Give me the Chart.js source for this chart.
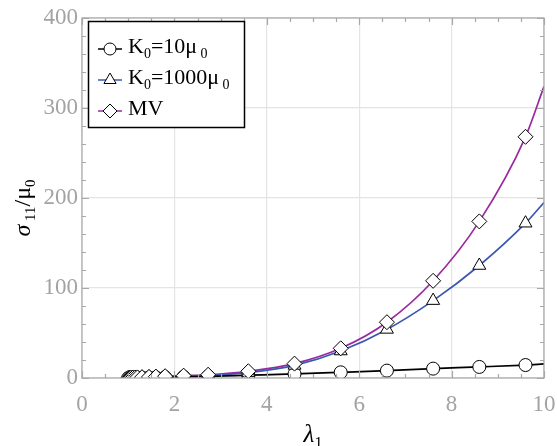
<!DOCTYPE html>
<html>
<head>
<meta charset="utf-8">
<script src="https://cdn.jsdelivr.net/npm/chart.js@4/dist/chart.umd.min.js"></script>
<style>
html,body{margin:0;padding:0;background:#fff;}
#c{display:block;}
</style>
</head>
<body>
<canvas id="c" width="557" height="446"></canvas>
<script>
// ---- data ----
const lambda = [1.0, 1.03, 1.06, 1.1, 1.15, 1.2, 1.3, 1.45, 1.6, 1.8, 2.2, 2.73, 3.6, 4.6, 5.6, 6.6, 7.6, 8.6, 9.6, 10];
const k10    = [0, 0.05, 0.1, 0.15, 0.2, 0.3, 0.4, 0.55, 0.7, 0.9, 1.3, 1.9, 3.1, 4.5, 6.3, 8.2, 10.4, 12.3, 14.4, 15.6];
const k1000  = [0, 0.1, 0.2, 0.3, 0.4, 0.5, 0.7, 0.9, 1.1, 1.4, 2.0, 3.0, 6.0, 14, 30, 54, 86, 125, 172, 195];
const mv     = [0, 0.1, 0.2, 0.35, 0.5, 0.65, 0.9, 1.2, 1.5, 2.0, 2.6, 3.6, 7.5, 16, 33, 62, 108, 174, 268, 324];
const seriesLabels = [[["K",""],["0","sub"],["=10μ",""],[" 0","sub"]],
                      [["K",""],["0","sub"],["=1000μ",""],[" 0","sub"]],
                      [["MV",""]]];
const xRange = [0, 10], yRange = [0, 400];
const xMajor = 2, xMinor = 0.5, yMajor = 100, yMinor = 20;

const colors = ['#000000', '#3a58b0', '#9a2a9e'];
const styles = ['circle', 'triangle', 'rectRot'];
const radii = [6.5, 7.5, 7.5];
const series = [k10, k1000, mv];

const pts = arr => lambda.map((x, i) => ({x: x, y: arr[i]}));
const datasets = [];
series.forEach((s, i) => {
  datasets.push({
    data: pts(s), borderColor: colors[i], borderWidth: 1.7, pointRadius: 0,
    cubicInterpolationMode: 'monotone', showLine: true, order: 10, fill: false
  });
});
series.forEach((s, i) => {
  datasets.push({
    data: pts(s).filter(p => p.x < 10), showLine: false, pointStyle: styles[i],
    pointRadius: radii[i], pointBackgroundColor: '#ffffff', pointBorderColor: '#000000',
    pointBorderWidth: 1, order: 3 - i
  });
});

const SERIF = '"Liberation Serif", "DejaVu Serif", serif';
const tickColor = '#a3a3a3';
Chart.defaults.font.family = SERIF;

function drawRich(ctx, parts, x, y, size) {
  let cx = x;
  parts.forEach(([t, kind]) => {
    if (kind === 'sub') {
      ctx.font = Math.round(size * 0.62) + 'px ' + SERIF;
      ctx.fillText(t, cx, y + size * 0.22);
    } else if (kind === 'it') {
      ctx.font = 'italic ' + size + 'px ' + SERIF;
      ctx.fillText(t, cx, y);
    } else {
      ctx.font = size + 'px ' + SERIF;
      ctx.fillText(t, cx, y);
    }
    cx += ctx.measureText(t).width;
  });
  return cx - x;
}
function richWidth(ctx, parts, size) {
  let w = 0;
  parts.forEach(([t, kind]) => {
    if (kind === 'sub') ctx.font = Math.round(size * 0.62) + 'px ' + SERIF;
    else if (kind === 'it') ctx.font = 'italic ' + size + 'px ' + SERIF;
    else ctx.font = size + 'px ' + SERIF;
    w += ctx.measureText(t).width;
  });
  return w;
}

const decor = {
  id: 'decor',
  afterDraw(chart) {
    const ctx = chart.ctx, a = chart.chartArea, xs = chart.scales.x, ys = chart.scales.y;
    ctx.save();
    // frame
    ctx.strokeStyle = '#a8a8a8';
    ctx.lineWidth = 1.2;
    ctx.strokeRect(a.left, a.top, a.right - a.left, a.bottom - a.top);
    // ticks
    ctx.beginPath();
    for (let v = xRange[0]; v <= xRange[1] + 1e-9; v += xMinor) {
      const px = Math.round(xs.getPixelForValue(v)) + 0.5;
      const major = Math.abs(v / xMajor - Math.round(v / xMajor)) < 1e-6;
      const L = major ? 7 : 4;
      ctx.moveTo(px, a.bottom); ctx.lineTo(px, a.bottom - L);
      ctx.moveTo(px, a.top); ctx.lineTo(px, a.top + L);
    }
    for (let v = yRange[0]; v <= yRange[1] + 1e-9; v += yMinor) {
      const py = Math.round(ys.getPixelForValue(v)) + 0.5;
      const major = Math.abs(v / yMajor - Math.round(v / yMajor)) < 1e-6;
      const L = major ? 7 : 4;
      ctx.moveTo(a.left, py); ctx.lineTo(a.left + L, py);
      ctx.moveTo(a.right, py); ctx.lineTo(a.right - L, py);
    }
    ctx.stroke();

    // axis titles
    ctx.fillStyle = '#000';
    ctx.textBaseline = 'alphabetic';
    ctx.textAlign = 'left';
    const xt = [["λ", "it"], ["1", "sub"]];
    const xw = richWidth(ctx, xt, 25);
    drawRich(ctx, xt, (a.left + a.right) / 2 - xw / 2, 442, 25);
    ctx.save();
    ctx.translate(30, (a.top + a.bottom) / 2 + 10);
    ctx.rotate(-Math.PI / 2);
    const yt = [["σ", "it"], [" 11", "sub"], ["/μ", ""], ["0", "sub"]];
    const yw = richWidth(ctx, yt, 24);
    drawRich(ctx, yt, -yw / 2, 0, 24);
    ctx.restore();

    // legend
    const bx = 88.5, by = 21.5, bw = 156, bh = 106;
    ctx.fillStyle = '#fff';
    ctx.fillRect(bx, by, bw, bh);
    ctx.strokeStyle = '#000';
    ctx.lineWidth = 1.5;
    ctx.strokeRect(bx, by, bw, bh);
    const rowsY = [46, 77, 108];
    rowsY.forEach((yy, i) => {
      ctx.strokeStyle = colors[i];
      ctx.lineWidth = 1.5;
      ctx.beginPath(); ctx.moveTo(98, yy + 3); ctx.lineTo(122, yy + 3); ctx.stroke();
      ctx.fillStyle = '#fff';
      ctx.strokeStyle = '#000';
      ctx.lineWidth = 1;
      Chart.helpers.drawPoint(ctx, {pointStyle: styles[i], radius: radii[i] - 0.5, borderWidth: 1}, 110, yy + 3);
      ctx.fillStyle = '#000';
      drawRich(ctx, seriesLabels[i], 128, yy + 7, 22);
    });
    ctx.restore();
  }
};

new Chart(document.getElementById('c'), {
  type: 'scatter',
  data: {datasets: datasets},
  plugins: [decor],
  options: {
    responsive: false,
    animation: false,
    layout: {padding: {top: 18, right: 13, left: 0, bottom: 0}},
    plugins: {legend: {display: false}, tooltip: {enabled: false}},
    scales: {
      x: {
        type: 'linear', min: xRange[0], max: xRange[1],
        ticks: {stepSize: xMajor, color: tickColor, padding: 13, maxRotation: 0,
                font: {family: SERIF, size: 23}},
        grid: {color: '#e4e4e4', lineWidth: 1.2, drawTicks: false},
        border: {display: false},
        afterFit(s) { s.height = 68; s.paddingLeft = 0; s.paddingRight = 0; }
      },
      y: {
        type: 'linear', min: yRange[0], max: yRange[1],
        ticks: {stepSize: yMajor, color: tickColor, padding: 4,
                font: {family: SERIF, size: 23}},
        grid: {color: '#e4e4e4', lineWidth: 1.2, drawTicks: false},
        border: {display: false},
        afterFit(s) { s.width = 82; s.paddingTop = 0; s.paddingBottom = 0; }
      }
    }
  }
});
</script>
</body>
</html>
